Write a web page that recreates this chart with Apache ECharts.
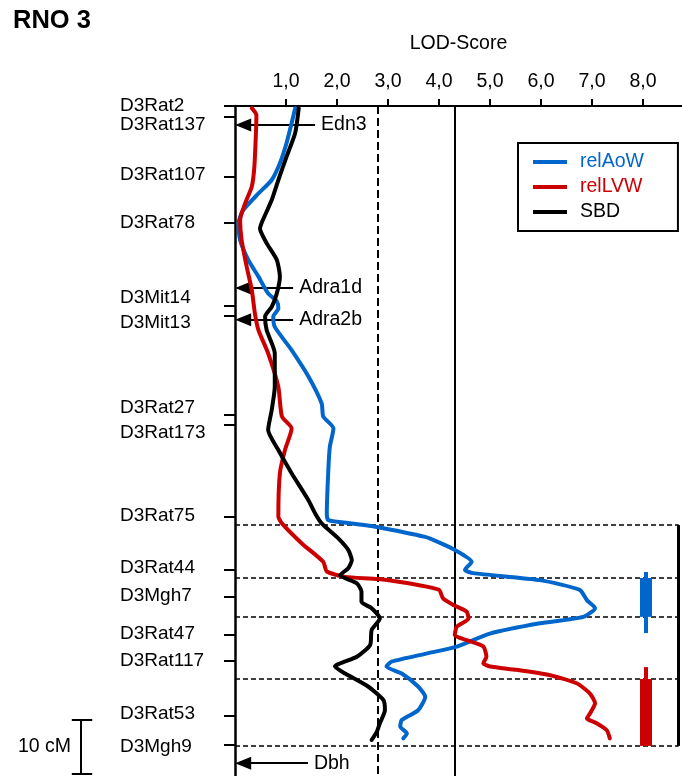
<!DOCTYPE html>
<html><head><meta charset="utf-8">
<script src="https://cdn.jsdelivr.net/npm/echarts@6/dist/echarts.min.js"></script>
<style>html,body{margin:0;padding:0;background:#fff}#c{width:682px;height:776px}</style>
</head><body><div id="c"></div>
<script>
const FONT = '"Liberation Sans", Arial, Helvetica, sans-serif';
const BLUE = '#0066cc', RED = '#cc0000', BLACK = '#000000';

// LOD-score axis ticks
const lodTicks = [1, 2, 3, 4, 5, 6, 7, 8];

// markers (chromosome position in cM, top = 0)
const markerNames   = ['D3Rat2','D3Rat137','D3Rat107','D3Rat78','D3Mit14','D3Mit13','D3Rat27','D3Rat173','D3Rat75','D3Rat44','D3Mgh7','D3Rat47','D3Rat117','D3Rat53','D3Mgh9'];
const markerTickCM  = [0, 2.0, 13.1, 21.7, 37.0, 38.9, 57.2, 59.1, 76.1, 85.9, 90.9, 98.0, 102.8, 113.0, 118.3];
const markerLabelCM = [0, 3.52, 12.78, 21.67, 35.56, 40.19, 55.93, 60.56, 75.93, 85.56, 90.74, 97.78, 102.78, 112.59, 118.7];

// relAoW
const aowCM  = [0.4, 3.2, 6.9, 10.6, 13.7, 16.2, 19.3, 21.7, 24.8, 28.5, 31.6, 34.7, 36.2, 37.5, 39.0, 40.9, 45.2, 50.1, 55.1, 57.5, 59.7, 63.1, 67.4, 75.4, 76.7, 77.3, 77.9, 79.8, 80.9, 82.2, 84.4, 85.9, 86.5, 87.8, 89.6, 91.5, 93.0, 94.6, 95.8, 97.7, 100.1, 101.4, 102.9, 103.8, 105.1, 107.5, 109.4, 111.9, 113.7, 114.9, 116.2, 117.1];
const aowLOD = [1.18, 1.11, 1.01, 0.88, 0.72, 0.46, 0.16, 0.07, 0.10, 0.26, 0.46, 0.65, 0.82, 0.85, 0.75, 0.78, 1.11, 1.44, 1.70, 1.73, 1.93, 1.86, 1.83, 1.80, 1.83, 2.29, 2.75, 3.73, 4.02, 4.31, 4.64, 4.51, 4.67, 5.98, 6.76, 6.90, 7.06, 6.83, 5.98, 5.00, 4.35, 3.75, 3.07, 2.97, 3.27, 3.59, 3.73, 3.59, 3.27, 3.24, 3.37, 3.30];

// relLVW
const lvwCM  = [0.4, 1.7, 5.1, 11.2, 14.9, 18.0, 21.1, 24.8, 29.8, 34.1, 38.4, 41.5, 45.8, 52.0, 57.5, 59.7, 63.7, 68.0, 76.0, 77.3, 81.0, 84.4, 86.2, 87.2, 87.6, 88.7, 89.6, 91.2, 92.4, 93.6, 94.9, 96.4, 98.0, 98.9, 100.1, 102.0, 103.2, 103.8, 104.4, 105.4, 106.9, 108.8, 110.6, 112.5, 113.4, 114.3, 115.6, 117.1];
const lvwLOD = [0.33, 0.42, 0.41, 0.38, 0.33, 0.20, 0.10, 0.13, 0.23, 0.33, 0.39, 0.46, 0.65, 0.85, 0.92, 1.11, 0.98, 0.88, 0.85, 0.92, 1.31, 1.73, 1.80, 2.16, 2.81, 3.59, 4.00, 4.08, 4.28, 4.54, 4.58, 4.35, 4.31, 4.54, 4.87, 4.93, 4.87, 5.00, 5.52, 6.18, 6.70, 6.96, 7.06, 6.96, 6.90, 7.09, 7.29, 7.35];

// SBD
const sbdCM  = [0.4, 5.0, 9.4, 13.7, 17.4, 21.7, 22.7, 25.4, 28.5, 31.6, 34.7, 37.2, 39.0, 41.5, 45.8, 52.0, 56.3, 60.0, 63.7, 68.0, 73.0, 75.4, 77.3, 80.1, 82.2, 84.1, 85.6, 86.9, 88.4, 89.9, 91.8, 93.0, 94.9, 97.0, 99.8, 102.0, 103.8, 105.1, 107.5, 110.0, 111.9, 114.3, 115.9, 117.4];
const sbdLOD = [1.25, 1.18, 1.01, 0.85, 0.72, 0.52, 0.49, 0.62, 0.82, 0.88, 0.82, 0.72, 0.59, 0.62, 0.78, 0.78, 0.72, 0.65, 0.85, 1.11, 1.44, 1.57, 1.70, 2.03, 2.22, 2.29, 2.22, 2.06, 2.39, 2.48, 2.48, 2.68, 2.84, 2.68, 2.65, 2.39, 1.96, 2.16, 2.61, 2.91, 2.94, 2.84, 2.78, 2.68];

// genes
const geneNames = ['Edn3', 'Adra1d', 'Adra2b', 'Dbh'];
const geneCM    = [3.5, 33.7, 39.6, 121.7];
const geneFromLOD = [1.57, 1.14, 1.14, 1.43];
const geneToLOD = 0.16;

// thresholds & intervals
const thresholdSuggestive = 2.8;
const thresholdSignificant = 4.3;
const intervalCM = [77.6, 87.4, 94.6, 106.1, 118.5];
const intervalEndLOD = 8.7;
const ciLOD = 8.06;
const ciAoWThin = [86.3, 97.6], ciAoWThick = [87.4, 94.6];
const ciLVWThin = [103.9, 118.5], ciLVWThick = [106.1, 118.5];

// scale bar (10 cM)
const scaleLOD = -3.02, scaleCM = [113.7, 123.7], scaleCapLOD = [-3.2, -2.8];

const pairs = (xs, ys) => xs.map((x, i) => [x, ys[i]]);
const fmtLOD = v => v.toFixed(1).replace('.', ',');

const blk = {color: BLACK};
const annot = [];
annot.push({xAxis: thresholdSuggestive, lineStyle: {color: BLACK, width: 2, type: [8, 4]}});
annot.push({xAxis: thresholdSignificant, lineStyle: {color: BLACK, width: 2, type: 'solid'}});
intervalCM.forEach(c => annot.push([{coord: [0, c], lineStyle: {color: BLACK, width: 1.5, type: [5, 3]}}, {coord: [intervalEndLOD, c]}]));
annot.push([{coord: [intervalEndLOD, intervalCM[0]], lineStyle: {color: BLACK, width: 3, type: 'solid'}}, {coord: [intervalEndLOD, intervalCM[intervalCM.length - 1]]}]);
annot.push([{coord: [ciLOD, ciAoWThin[0]], lineStyle: {color: BLUE, width: 4, type: 'solid'}}, {coord: [ciLOD, ciAoWThin[1]]}]);
annot.push([{coord: [ciLOD, ciAoWThick[0]], lineStyle: {color: BLUE, width: 12, type: 'solid'}}, {coord: [ciLOD, ciAoWThick[1]]}]);
annot.push([{coord: [ciLOD, ciLVWThin[0]], lineStyle: {color: RED, width: 4, type: 'solid'}}, {coord: [ciLOD, ciLVWThin[1]]}]);
annot.push([{coord: [ciLOD, ciLVWThick[0]], lineStyle: {color: RED, width: 12, type: 'solid'}}, {coord: [ciLOD, ciLVWThick[1]]}]);
geneNames.forEach((g, i) => annot.push([
  {name: g, coord: [geneFromLOD[i], geneCM[i]], lineStyle: {color: BLACK, width: 2, type: 'solid'},
   label: {show: true, position: 'start', formatter: '{b}', fontSize: 19.5, fontFamily: FONT, color: BLACK, distance: 6}},
  {coord: [geneToLOD, geneCM[i]], symbol: 'triangle', symbolSize: [13, 16], itemStyle: blk}
]));

const lineSeries = (name, xs, ys, color) => ({
  type: 'line', name, data: pairs(xs, ys), showSymbol: false, symbol: 'none',
  smooth: 0.2, z: 5, animation: false,
  lineStyle: {color, width: 4, cap: 'round', join: 'round'}, itemStyle: {color}
});

const chart = echarts.init(document.getElementById('c'), null, {renderer: 'canvas'});
chart.setOption({
  animation: false,
  backgroundColor: '#fff',
  title: {text: 'RNO 3', left: 13, top: 8, padding: 0,
    textStyle: {fontSize: 25.5, fontWeight: 'bold', fontFamily: FONT, color: BLACK}},
  legend: {
    orient: 'vertical', left: 518, top: 143, selectedMode: false,
    data: [{name: 'relAoW', textStyle: {color: BLUE}}, {name: 'relLVW', textStyle: {color: RED}}, {name: 'SBD', textStyle: {color: BLACK}}],
    icon: 'rect', itemWidth: 34, itemHeight: 4, itemGap: 5,
    borderColor: BLACK, borderWidth: 2, borderRadius: 0, padding: [9, 34, 9, 15],
    textStyle: {fontSize: 19.5, fontFamily: FONT, padding: [0, 0, 0, 8]}
  },
  grid: {left: 235, top: 106, right: 0, bottom: 0, containLabel: false, outerBoundsMode: 'none'},
  xAxis: {
    type: 'value', position: 'top', min: 0, max: 8.765, interval: 1,
    name: 'LOD-Score', nameLocation: 'middle', nameGap: 52,
    nameTextStyle: {fontSize: 19.5, fontFamily: FONT, color: BLACK},
    axisLine: {show: true, lineStyle: {color: BLACK, width: 2}},
    axisTick: {show: true, length: 7, inside: false, customValues: lodTicks, lineStyle: {color: BLACK, width: 2}},
    axisLabel: {show: true, customValues: lodTicks, formatter: fmtLOD, margin: 14, fontSize: 19.5, fontFamily: FONT, color: BLACK},
    splitLine: {show: false}
  },
  yAxis: {
    type: 'value', inverse: true, min: 0, max: 124.07,
    axisLine: {show: true, lineStyle: {color: BLACK, width: 2.5}},
    axisTick: {show: true, length: 11, inside: false, customValues: markerTickCM, lineStyle: {color: BLACK, width: 2}},
    axisLabel: {show: true, customValues: markerLabelCM, align: 'left', margin: 115, fontSize: 19, fontFamily: FONT, color: BLACK,
      formatter: v => { let best = 0, d = 1e9; markerLabelCM.forEach((c, i) => { const e = Math.abs(c - v); if (e < d) { d = e; best = i; } }); return markerNames[best]; }},
    splitLine: {show: false}
  },
  series: [
    {type: 'scatter', name: 'annot', data: [[0, 0]], symbolSize: 0, clip: false, silent: true, z: 1,
     markLine: {silent: true, animation: false, symbol: 'none', label: {show: false}, lineStyle: {color: BLACK}, itemStyle: blk, data: annot}},
    lineSeries('relAoW', aowLOD, aowCM, BLUE),
    lineSeries('relLVW', lvwLOD, lvwCM, RED),
    lineSeries('SBD', sbdLOD, sbdCM, BLACK)
  ]
});

// 10 cM scale bar, placed with the chart's own scales
const px = (x, y) => chart.convertToPixel({gridIndex: 0}, [x, y]);
const sTop = px(scaleLOD, scaleCM[0]), sBot = px(scaleLOD, scaleCM[1]);
const cTopL = px(scaleCapLOD[0], scaleCM[0]), cTopR = px(scaleCapLOD[1], scaleCM[0]);
const cBotL = px(scaleCapLOD[0], scaleCM[1]), cBotR = px(scaleCapLOD[1], scaleCM[1]);
const ls = {stroke: BLACK, lineWidth: 2};
chart.setOption({graphic: [
  {type: 'line', shape: {x1: sTop[0], y1: sTop[1], x2: sBot[0], y2: sBot[1]}, style: ls},
  {type: 'line', shape: {x1: cTopL[0], y1: cTopL[1], x2: cTopR[0], y2: cTopR[1]}, style: ls},
  {type: 'line', shape: {x1: cBotL[0], y1: cBotL[1], x2: cBotR[0], y2: cBotR[1]}, style: ls},
  {type: 'text', x: sTop[0] - 10, y: (sTop[1] + sBot[1]) / 2,
   style: {text: '10 cM', fontSize: 19.5, fontFamily: FONT, fill: BLACK, align: 'right', verticalAlign: 'middle'}}
]});
</script></body></html>
